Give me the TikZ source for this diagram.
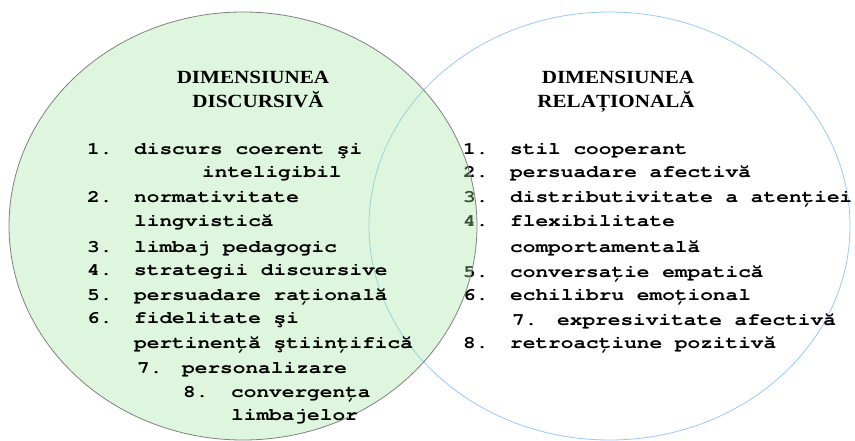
\documentclass[tikz,border=0pt]{standalone}
\usepackage{fontspec}
\setmainfont{Liberation Serif}
\newfontfamily\listfont{TeX Gyre Cursor}[FakeStretch=1.207,Ligatures={NoCommon,NoRequired,NoContextual}]
\newfontfamily\headfont{Liberation Serif}[FakeStretch=1.135]
\definecolor{greenfill}{RGB}{160,230,160}
\definecolor{greenline}{RGB}{128,128,128}
\definecolor{blueline}{RGB}{150,200,255}
\newcommand\itemnum[2][47pt]{\makebox[#1][l]{#2}}
\begin{document}
\begin{tikzpicture}[x=1pt,y=-1pt,
  listitem/.style={anchor=base west,inner sep=0pt,font=\listfont\bfseries\fontsize{17.5pt}{24pt}\selectfont},
  headline/.style={anchor=base,inner sep=0pt,font=\headfont\bfseries\fontsize{18.6pt}{24pt}\selectfont}]
\useasboundingbox (0,0) rectangle (855,441);
% right circle and its texts (under the green circle)
\draw[blueline,line width=0.8pt] (609.5,226) ellipse [x radius=240.5,y radius=214];
\node[headline] (rh1) at (618,84) {DIMENSIUNEA};
\node[headline] (rh2) at (616,108) {RELAȚIONALĂ};
\node[listitem] (r1) at (463,155) {\itemnum{1.}stil cooperant};
\node[listitem] (r2) at (463,178) {\itemnum{2.}persuadare afectivă};
\node[listitem] (r3) at (463,203) {\itemnum{3.}distributivitate a atenției};
\node[listitem] (r4) at (463,227) {\itemnum{4.}flexibilitate};
\node[listitem] (r4b) at (510,252) {comportamentală};
\node[listitem] (r5) at (463,277) {\itemnum{5.}conversație empatică};
\node[listitem] (r6) at (463,300) {\itemnum{6.}echilibru emoțional};
\node[listitem] (r7) at (512,325) {\itemnum[45pt]{7.}expresivitate afectivă};
\node[listitem] (r8) at (463,348) {\itemnum{8.}retroacțiune pozitivă};
% left circle
\fill[greenfill,fill opacity=0.35] (243,226) ellipse [x radius=234,y radius=214];
\draw[greenline,line width=0.8pt] (243,226) ellipse [x radius=234,y radius=214];
\node[headline] (lh1) at (253,84) {DIMENSIUNEA};
\node[headline] (lh2) at (258,108) {DISCURSIVĂ};
\node[listitem] (l1) at (87,155) {\itemnum{1.}discurs coerent şi};
\node[listitem] (l1b) at (202,178) {inteligibil};
\node[listitem] (l2) at (87,203) {\itemnum{2.}normativitate};
\node[listitem] (l2b) at (134,227) {lingvistică};
\node[listitem] (l3) at (87,252) {\itemnum{3.}limbaj pedagogic};
\node[listitem] (l4) at (87,275) {\itemnum{4.}strategii discursive};
\node[listitem] (l5) at (87,300) {\itemnum{5.}persuadare rațională};
\node[listitem] (l6) at (87,323) {\itemnum{6.}fidelitate şi};
\node[listitem] (l6b) at (134,348) {pertinență ştiințifică};
\node[listitem] (l7) at (137,373) {\itemnum[45pt]{7.}personalizare};
\node[listitem] (l8) at (183,397) {\itemnum[48pt]{8.}convergența};
\node[listitem] (l8b) at (231,420) {limbajelor};
\end{tikzpicture}
\end{document}
